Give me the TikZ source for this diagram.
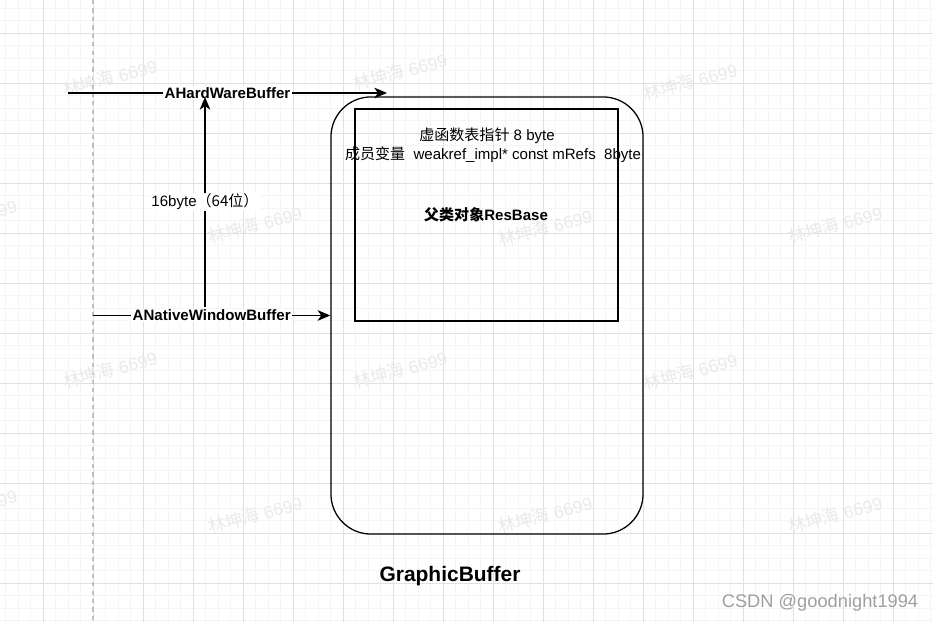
\documentclass[tikz,border=0pt]{standalone}
\usepackage{fontspec}
\setmainfont{Liberation Sans}
\newfontfamily\cjk{Noto Sans CJK SC}
\usetikzlibrary{arrows.meta}
\definecolor{minorgrid}{HTML}{F5F5F5}
\definecolor{majorgrid}{HTML}{E0E0E0}
\definecolor{markgray}{HTML}{EAEAEA}
\tikzset{
  lbl/.style={fill=white, inner sep=1pt, font=\fontsize{10.7}{12.5}\selectfont\bfseries},
  txt/.style={inner sep=1pt, font=\fontsize{10.7}{12.5}\selectfont},
  ptr/.style={-{Stealth[length=9pt,width=7.5pt,inset=2.5pt]}, line width=0.9pt},
  wmark/.style={text=markgray, rotate=15, font=\fontsize{12.5}{14}\selectfont}
}
\begin{document}
\begin{tikzpicture}[x=0.025cm, y=-0.025cm]
    \useasboundingbox[fill=white] (0,0) rectangle (933,622);
    \foreach \gx in {5.5,18,...,933} \draw[minorgrid, line width=0.7pt] (\gx,0) -- (\gx,622);
    \foreach \gy in {8,20.5,...,622} \draw[minorgrid, line width=0.7pt] (0,\gy) -- (933,\gy);
    \foreach \gx in {43,93,...,933} \draw[majorgrid, line width=0.7pt] (\gx,0) -- (\gx,622);
    \foreach \gy in {33,83,...,622} \draw[majorgrid, line width=0.7pt] (0,\gy) -- (933,\gy);
    \draw[gray!50, dashed, line width=0.8pt] (93,0) -- (93,622);
    \foreach \wx/\wy in {110/78, 400/72, 690/82, -30/218, 255/225, 545/228, 835/225,
                         110/370, 400/370, 690/372, -30/508, 255/515, 545/515, 835/515}
        \node[wmark] at (\wx,\wy) {{\cjk 林坤海} 6699};
    \node[draw, line width=0.9pt, rounded corners=1cm, inner sep=0pt,
          minimum width=7.8cm, minimum height=10.925cm] (gbuf) at (487,315.5) {};
    \node[draw, line width=0.9pt, inner sep=0pt,
          minimum width=6.575cm, minimum height=5.3cm] (resbase) at (486.5,215) {};
    \node[txt] (vtblptr) at (487,136) {{\cjk 虚函数表指针} 8 byte};
    \node[txt] (mrefs) at (493,155) {{\cjk 成员变量}\ \ weakref\_impl* const mRefs\ \ 8byte};
    \node[lbl, fill=none] (resbasettl) at (486,215) {{\cjk 父类对象}ResBase};
    \node[font=\fontsize{14.9}{17}\selectfont\bfseries] (gbufttl) at (450,576) {GraphicBuffer};
    \node[text=gray!75, font=\fontsize{13}{15}\selectfont] (csdn) at (820,603) {CSDN @goodnight1994};
    \coordinate (hwin) at (68,93);
    \coordinate (hwout) at (387,93);
    \draw[ptr] (hwin) -- node[lbl] (hwlbl) {AHardWareBuffer} (hwout);
    \coordinate (nwin) at (93,315.5);
    \draw[ptr] (nwin) -- node[lbl] (nwlbl) {ANativeWindowBuffer} (gbuf.west);
    \coordinate (sztop) at (205,97);
    \coordinate (szbot) at (205,307);
    \draw[ptr, {Stealth[length=9pt,width=7.5pt,inset=2.5pt]}-] (sztop) -- node[txt, fill=white] (szlbl) {16byte{\cjk （64位）}} (szbot);
\end{tikzpicture}
\end{document}
